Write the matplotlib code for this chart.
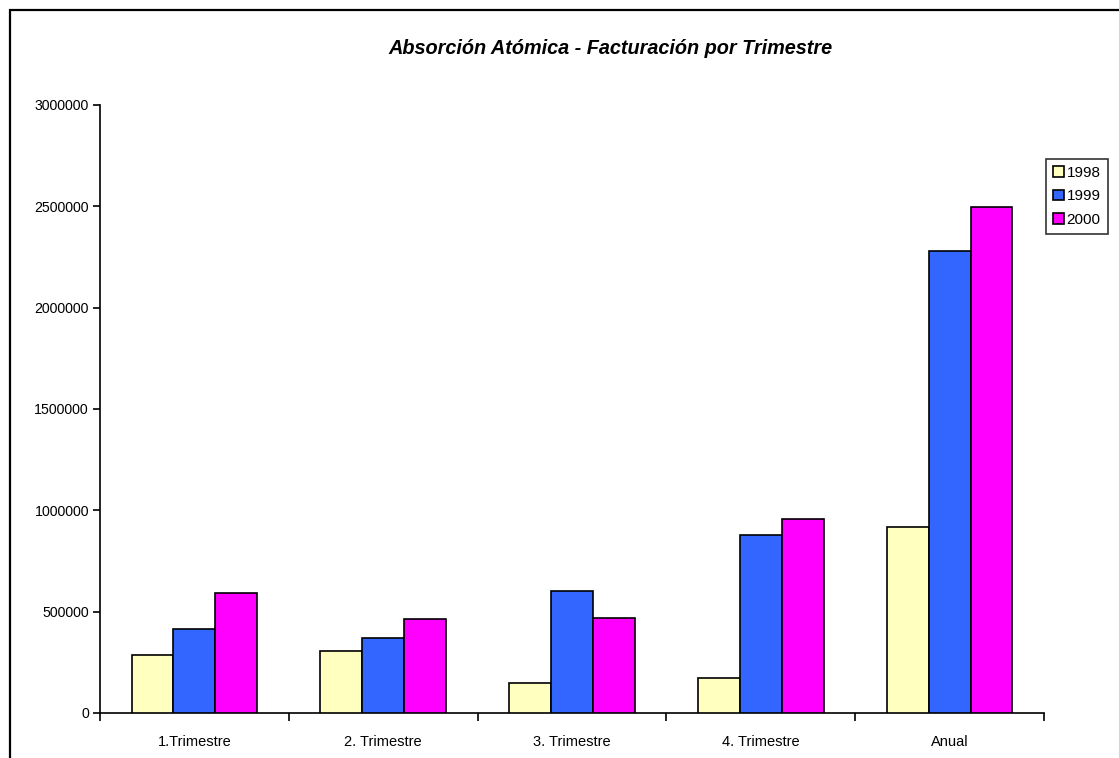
import matplotlib
matplotlib.use("Agg")
import matplotlib.pyplot as plt
import numpy as np
from matplotlib.patches import Rectangle

categories = ["1.Trimestre", "2. Trimestre", "3. Trimestre", "4. Trimestre", "Anual"]
years = ["1998", "1999", "2000"]
v1998 = [285000, 305000, 146000, 175000, 916000]
v1999 = [414000, 372000, 601000, 878000, 2278000]
v2000 = [591000, 463000, 471000, 956000, 2495000]
colors = ["#FFFFC0", "#3366FF", "#FF00FF"]
yticks = [0, 500000, 1000000, 1500000, 2000000, 2500000, 3000000]

plt.rcParams['font.family'] = ['Liberation Sans', 'DejaVu Sans']

W, H = 1119, 758
fig = plt.figure(figsize=(W / 100, H / 100), dpi=100)

def fx(px):
    return px / W

def fy(py):
    return 1 - py / H

ax = fig.add_axes([fx(100), fy(713), fx(1044) - fx(100), fy(105) - fy(713)])

series = [v1998, v1999, v2000]
x = np.arange(len(categories))
bw = 0.222
for i, (vals, c, lab) in enumerate(zip(series, colors, years)):
    ax.bar(x + (i - 1) * bw, vals, width=bw, color=c, edgecolor="black",
           linewidth=1.2, label=lab, zorder=3)

ax.set_xlim(-0.5, len(categories) - 0.5)
ax.set_ylim(0, 3000000)
ax.set_yticks(yticks)
ax.set_yticklabels([str(t) for t in yticks], fontsize=10.2)
ax.set_xticks(x)
ax.set_xticklabels(categories, fontsize=10.5)
ax.tick_params(axis='x', which='major', length=0, pad=16)
ax.set_xticks(np.arange(len(categories) + 1) - 0.5, minor=True)
ax.tick_params(axis='x', which='minor', length=6, width=1.2, direction='out')
ax.tick_params(axis='y', length=5, width=1.2, direction='out', pad=3)
for s in ["top", "right"]:
    ax.spines[s].set_visible(False)
for s in ["left", "bottom"]:
    ax.spines[s].set_linewidth(1.2)

leg = ax.legend(loc="upper left", bbox_to_anchor=(fx(1046), fy(159)),
                bbox_transform=fig.transFigure, fontsize=11, frameon=True,
                fancybox=False, edgecolor="black", handlelength=0.7,
                handleheight=0.7, handletextpad=0.2, borderpad=0.45,
                labelspacing=0.62, borderaxespad=0)
leg.get_frame().set_linewidth(1.2)

fig.text(fx(610), fy(48), "Absorción Atómica - Facturación por Trimestre",
         ha="center", va="center", fontsize=14.3, fontweight="bold", style="italic")

fig.patches.append(Rectangle((fx(10), fy(1000)), fx(1300), fy(10) - fy(1000),
                             transform=fig.transFigure, fill=False,
                             edgecolor="black", linewidth=1.6, clip_on=False))

fig.savefig("out.png", dpi=100)
